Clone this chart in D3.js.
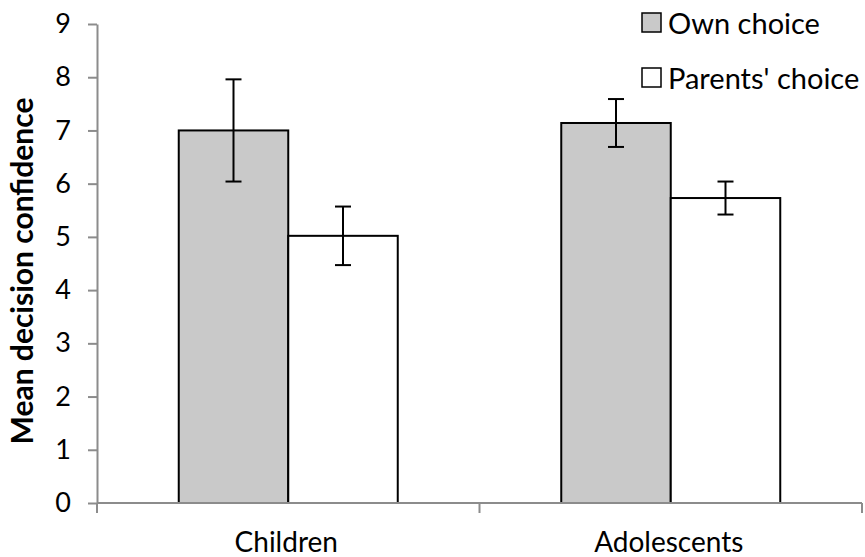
<!DOCTYPE html>
<meta charset="utf-8">
<script src="https://cdn.jsdelivr.net/npm/d3@7"></script>
<style>
  body { margin: 0; background: #fff; }
  text { font-family: Lato, "Open Sans", sans-serif; fill: #000; }
  .axis path, .axis line { stroke: #8c8c8c; stroke-width: 2px; }
  .bar { stroke: #000; stroke-width: 2px; }
  .err { stroke: #000; stroke-width: 2px; fill: none; }
</style>
<body>
<script>
  // data
  var groups = ["Children", "Adolescents"];
  var series = ["Own choice", "Parents' choice"];
  var colors = ["#c9c9c9", "#ffffff"];
  var ownMeans = [7.00, 7.14];
  var ownErr = [0.96, 0.45];
  var parentsMeans = [5.02, 5.73];
  var parentsErr = [0.55, 0.31];
  var yTicks = [0, 1, 2, 3, 4, 5, 6, 7, 8, 9];

  var width = 865,
    height = 557;

  var rows = [];
  groups.forEach(function (g, i) {
    rows.push({ group: g, s: 0, value: ownMeans[i], err: ownErr[i] });
    rows.push({ group: g, s: 1, value: parentsMeans[i], err: parentsErr[i] });
  });

  var svg = d3.select("body").append("svg")
    .attr("width", width)
    .attr("height", height);

  var x = d3.scaleBand()
    .domain(groups)
    .range([97, 862])
    .paddingInner(0)
    .paddingOuter(0);

  var barW = 109.5;
  var xs = d3.scaleBand()
    .domain([0, 1])
    .range([0, barW * 2]);

  var y = d3.scaleLinear()
    .domain([0, 9])
    .range([503, 24]);

  // y axis
  var yAxis = svg.append("g")
    .attr("class", "axis")
    .attr("transform", "translate(97,0)")
    .call(d3.axisLeft(y).tickValues(yTicks).tickSize(9).tickPadding(17).tickSizeOuter(0));
  yAxis.selectAll("text").style("font-size", "27px").style("font-family", "Lato, sans-serif");

  // bars
  var gx = function (d) { return x(d.group) + (x.bandwidth() - barW * 2) / 2 + xs(d.s); };

  svg.append("g")
    .selectAll("rect")
    .data(rows)
    .enter()
    .append("rect")
    .attr("class", "bar")
    .attr("x", gx)
    .attr("y", function (d) { return y(d.value); })
    .attr("width", barW)
    .attr("height", function (d) { return y(0) - y(d.value); })
    .style("fill", function (d) { return colors[d.s]; });

  // x axis (drawn over bar bottoms)
  var xAxis = svg.append("g")
    .attr("class", "axis")
    .attr("transform", "translate(0,503)");
  xAxis.append("line")
    .attr("x1", 97).attr("x2", 862);
  xAxis.selectAll("line.tick")
    .data([97, x("Adolescents"), 862])
    .enter().append("line")
    .attr("class", "tick")
    .attr("x1", function (d) { return d; })
    .attr("x2", function (d) { return d; })
    .attr("y1", 0).attr("y2", 10);
  xAxis.selectAll("text")
    .data(groups)
    .enter().append("text")
    .attr("x", function (d) { return x(d) + x.bandwidth() / 2 - 2; })
    .attr("y", 49)
    .attr("text-anchor", "middle")
    .style("font-size", "28px")
    .text(function (d) { return d; });

  // error bars
  var eb = svg.append("g").selectAll("g")
    .data(rows)
    .enter().append("g")
    .attr("class", "err");
  var cx = function (d) { return gx(d) + barW / 2; };
  eb.append("line")
    .attr("x1", cx).attr("x2", cx)
    .attr("y1", function (d) { return y(d.value + d.err); })
    .attr("y2", function (d) { return y(d.value - d.err); });
  [1, -1].forEach(function (sgn) {
    eb.append("line")
      .attr("x1", function (d) { return cx(d) - 8; })
      .attr("x2", function (d) { return cx(d) + 8; })
      .attr("y1", function (d) { return y(d.value + sgn * d.err); })
      .attr("y2", function (d) { return y(d.value + sgn * d.err); });
  });

  // y label
  svg.append("text")
    .attr("transform", "translate(33,271) rotate(-90)")
    .attr("text-anchor", "middle")
    .style("font-size", "30px")
    .style("font-weight", 700)
    .text("Mean decision confidence");

  // legend
  var leg = svg.append("g").selectAll("g")
    .data(series)
    .enter().append("g")
    .attr("transform", function (d, i) { return "translate(642," + (13 + i * 55) + ")"; });
  leg.append("rect")
    .attr("width", 19).attr("height", 19)
    .style("fill", function (d, i) { return colors[i]; })
    .style("stroke", "#000")
    .style("stroke-width", 1.5);
  leg.append("text")
    .attr("x", 26)
    .attr("y", 21)
    .style("font-size", "29px")
    .text(function (d) { return d; });
</script>
</body>
